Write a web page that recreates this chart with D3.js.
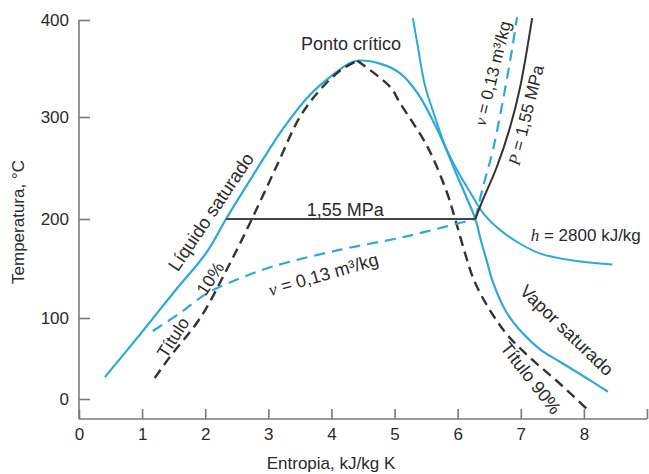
<!DOCTYPE html>
<html>
<head>
<meta charset="utf-8">
<script src="https://cdn.jsdelivr.net/npm/d3@7"></script>
<style>
  html, body { margin: 0; padding: 0; background: #fff; }
  svg { display: block; font-family: "Liberation Sans", Arial, Helvetica, sans-serif; }
</style>
</head>
<body>
<svg id="chart" width="649" height="474"></svg>
<script>
// ---- Data: entropy s (kJ/kg K) and temperature T (°C) ----

// Saturated liquid line, up to the critical point
const satLiquidS = [0.41, 0.97, 1.49, 2.03, 2.33, 2.79, 3.25, 3.66, 4.03, 4.25, 4.41];
const satLiquidT = [27, 80, 125, 167, 200, 246, 290, 323, 344, 354, 358];

// Saturated vapour line, from the critical point down
const satVaporS = [4.77, 5.09, 5.37, 5.61, 5.80, 5.96, 6.12, 6.28, 6.37, 6.46, 6.56, 6.78, 7.02, 7.31, 7.62, 8.10, 8.38];
const satVaporT = [355, 345, 324, 296, 271, 247, 224, 200, 178, 158, 136, 105, 82, 61, 46, 23, 9];

// Quality 10 % line
const quality10S = [1.20, 1.44, 1.92, 2.35, 2.74, 3.14, 3.50, 3.82, 4.14, 4.41];
const quality10T = [26, 52, 100, 150, 200, 253, 300, 328, 348, 358];

// Quality 90 % line
const quality90S = [4.41, 4.93, 5.09, 5.52, 5.83, 5.96, 6.10, 6.26, 6.51, 6.81, 7.19, 7.59, 8.07];
const quality90T = [358, 331, 314, 271, 226, 200, 169, 138, 108, 77, 48, 21, -14];

// Constant pressure P = 1.55 MPa (boiling at 200 °C, then superheated)
const pressureBoilS = [2.33, 6.28];
const pressureBoilT = [200, 200];
const pressureSuperS = [6.28, 6.40, 6.62, 6.83, 6.99, 7.18];
const pressureSuperT = [200, 219, 251, 290, 331, 402];

// Constant specific volume v = 0.13 m³/kg
const volumeWetS = [1.17, 1.60, 2.03, 2.55, 3.07, 4.14, 5.09, 5.48, 6.28];
const volumeWetT = [84, 105, 125, 140, 152, 169, 181, 187, 200];
const volumeSuperS = [6.28, 6.40, 6.56, 6.72, 6.86, 6.94];
const volumeSuperT = [200, 231, 268, 318, 369, 403];

// Constant enthalpy h = 2800 kJ/kg
const enthalpyS = [5.29, 5.37, 5.48, 5.63, 5.80, 5.99, 6.20, 6.40, 6.67, 6.99, 7.31, 7.83, 8.45];
const enthalpyT = [402, 372, 333, 302, 272, 248, 226, 206, 189, 175, 165, 158, 154];

// Axis ticks
const sTicks = [0, 1, 2, 3, 4, 5, 6, 7, 8, 9];
const sTickLabels = ["0", "1", "2", "3", "4", "5", "6", "7", "8", ""];
const tTicks = [0, 100, 200, 300, 400];
const tTickLabels = ["0", "100", "200", "300", "400"];

// ---- Layout ----
const svg = d3.select("#chart");
const left = 79, right = 647, bottom = 419;

const x = d3.scaleLinear().domain([0, 9]).range([left, right]);
// The temperature axis of this diagram is not evenly spaced near 0 °C
const y = d3.scaleLinear().domain(tTicks).range([399, 318, 219, 117, 20]);

const cyan = "#2ba8dc";
const ink = "#333333";
const axisGrey = "#7a7a7a";
const textColor = "#2a2a2a";

const zip = (s, t) => s.map((v, i) => [v, t[i]]);
const line = d3.line()
  .x(d => x(d[0]))
  .y(d => y(d[1]))
  .curve(d3.curveCatmullRom.alpha(0.5));

// ---- Axes ----
const xAxis = d3.axisBottom(x)
  .tickValues(sTicks)
  .tickFormat((d, i) => sTickLabels[i])
  .tickSizeInner(-10)
  .tickSizeOuter(0)
  .tickPadding(9);

const yAxis = d3.axisLeft(y)
  .tickValues(tTicks)
  .tickFormat((d, i) => tTickLabels[i])
  .tickSizeInner(-11)
  .tickSizeOuter(0)
  .tickPadding(10);

const gx = svg.append("g").attr("transform", `translate(0,${bottom})`).call(xAxis);
const gy = svg.append("g").attr("transform", `translate(${left},0)`).call(yAxis);

[gx, gy].forEach(g => {
  g.select(".domain").remove();
  g.selectAll(".tick line").attr("stroke", axisGrey).attr("stroke-width", 1.6);
  g.selectAll(".tick text")
    .attr("fill", textColor)
    .style("font-size", "17px")
    .style("font-family", "'Liberation Sans', Arial, sans-serif");
});

// axis lines
svg.append("line")
  .attr("x1", left).attr("x2", right).attr("y1", bottom).attr("y2", bottom)
  .attr("stroke", axisGrey).attr("stroke-width", 1.6);
svg.append("line")
  .attr("x1", left).attr("x2", left).attr("y1", bottom).attr("y2", y(400))
  .attr("stroke", axisGrey).attr("stroke-width", 1.6);

// axis titles
svg.append("text")
  .attr("x", (left + 583) / 2).attr("y", 463)
  .attr("text-anchor", "middle").attr("dy", "0.35em")
  .attr("fill", textColor).style("font-size", "17px")
  .text("Entropia, kJ/kg K");
svg.append("text")
  .attr("transform", "translate(18,222) rotate(-90)")
  .attr("text-anchor", "middle").attr("dy", "0.35em")
  .attr("fill", textColor).style("font-size", "17px")
  .text("Temperatura, °C");

// ---- Curves ----
const curves = svg.append("g").attr("fill", "none");

// enthalpy line
curves.append("path")
  .attr("d", line(zip(enthalpyS, enthalpyT)))
  .attr("stroke", cyan).attr("stroke-width", 2);

// saturation dome
curves.append("path")
  .attr("d", line(zip(satLiquidS, satLiquidT).concat(zip(satVaporS, satVaporT))))
  .attr("stroke", cyan).attr("stroke-width", 2.2);

// quality lines
[[quality10S, quality10T], [quality90S, quality90T]].forEach(([s, t]) => {
  curves.append("path")
    .attr("d", line(zip(s, t)))
    .attr("stroke", ink).attr("stroke-width", 2.4)
    .attr("stroke-dasharray", "10,6");
});

// constant volume
[[volumeWetS, volumeWetT], [volumeSuperS, volumeSuperT]].forEach(([s, t]) => {
  curves.append("path")
    .attr("d", line(zip(s, t)))
    .attr("stroke", cyan).attr("stroke-width", 2.2)
    .attr("stroke-dasharray", "11,7");
});

// constant pressure
curves.append("path")
  .attr("d", d3.line().x(d => x(d[0])).y(d => y(d[1]))(zip(pressureBoilS, pressureBoilT)))
  .attr("stroke", "#444").attr("stroke-width", 2.2);
curves.append("path")
  .attr("d", line(zip(pressureSuperS, pressureSuperT)))
  .attr("stroke", ink).attr("stroke-width", 2);

// ---- Annotations ----
const notes = svg.append("g").attr("fill", textColor);

function note(s, t, angle, size, parts) {
  const txt = notes.append("text")
    .attr("transform", `translate(${x(s)},${y(t)}) rotate(${angle})`)
    .attr("text-anchor", "middle")
    .attr("dy", "0.35em")
    .style("font-size", size + "px");
  parts.forEach(p => {
    const sp = txt.append("tspan").text(p.text);
    if (p.italic) sp.style("font-style", "italic").style("font-family", "'Liberation Serif', 'Times New Roman', serif");
  });
}

note(4.31, 376, 0, 18, [{ text: "Ponto crítico" }]);
note(4.22, 209, 0, 18, [{ text: "1,55 MPa" }]);
note(2.09, 207, -56, 18.5, [{ text: "Líquido saturado" }]);
note(1.49, 76, -57, 17.5, [{ text: "Título" }]);
note(2.08, 140, -57, 17.5, [{ text: "10%" }]);
note(3.87, 144, -16, 18, [{ text: "ν", italic: true }, { text: " = 0,13 m³/kg" }]);
note(6.55, 345, -76, 17, [{ text: "ν", italic: true }, { text: " = 0,13 m³/kg" }]);
note(7.08, 302, -76, 17, [{ text: "P", italic: true }, { text: " = 1,55 MPa" }]);
note(8.03, 184, 0, 17, [{ text: "h", italic: true }, { text: " = 2800 kJ/kg" }]);
note(7.73, 85, 44, 18, [{ text: "Vapor saturado" }]);
note(7.16, 26, 52, 18, [{ text: "Título 90%" }]);
</script>
</body>
</html>
